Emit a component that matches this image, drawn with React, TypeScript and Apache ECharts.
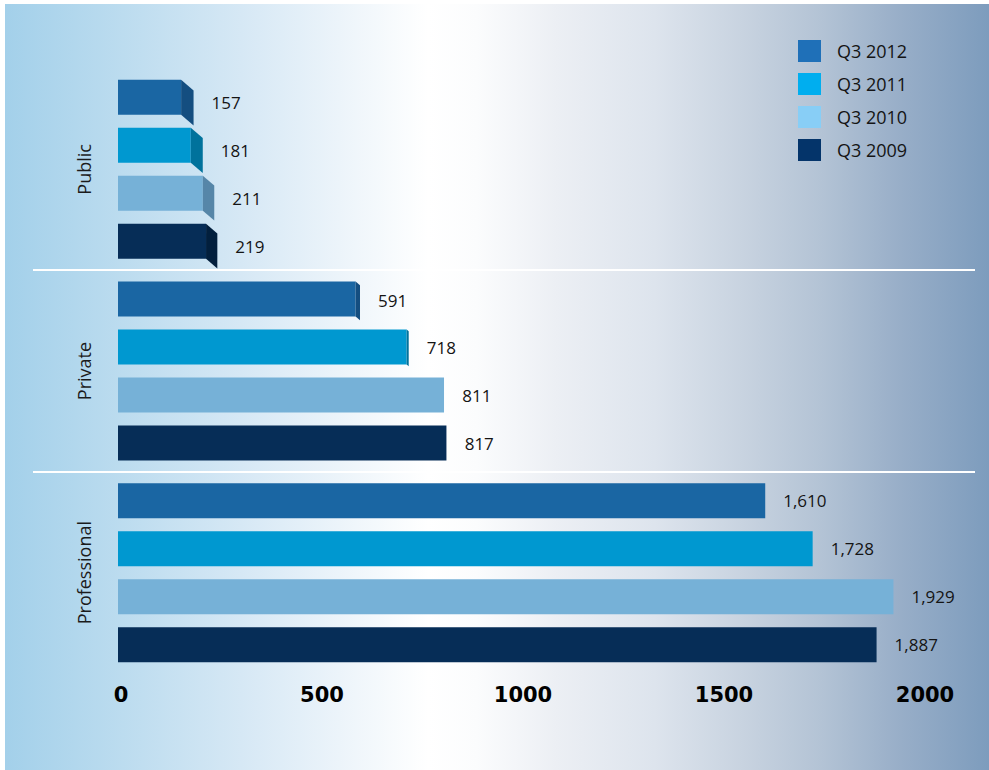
import React, { useEffect, useRef } from 'react';
import * as echarts from 'echarts';

const categories = ['Public', 'Private', 'Professional'];
const quarters = ['Q3 2012', 'Q3 2011', 'Q3 2010', 'Q3 2009'];
const q2012 = [157, 591, 1610];
const q2011 = [181, 718, 1728];
const q2010 = [211, 811, 1929];
const q2009 = [219, 817, 1887];
const seriesValues = [q2012, q2011, q2010, q2009];
const xTickLabels = ['0', '500', '1000', '1500', '2000'];
const X_MIN = 0;
const X_MAX = 2000;
const X_INTERVAL = 500;

const barColors = ['#1a66a3', '#0098d0', '#76b1d7', '#062d57'];
const sideColors = ['#144e80', '#00729c', '#5686a8', '#021f3d'];
const legendColors = ['#1f70b8', '#00aeef', '#88cef6', '#04346a'];

const BAR_W = 35;
const BAR_GAP = 13;
const VANISH_VALUE = 830;

function makeRenderItem(s: number) {
  return (params: any, api: any) => {
    const val = api.value(0);
    const cat = api.value(1);
    const start = api.coord([X_MIN, cat]);
    const end = api.coord([val, cat]);
    const total = 4 * BAR_W + 3 * BAR_GAP;
    const top = start[1] - total / 2 + s * (BAR_W + BAR_GAP);
    const vanish = api.coord([VANISH_VALUE, cat])[0];
    const depth = Math.max(0, (vanish - end[0]) * 0.046);
    const drop = depth * 0.85;
    const x0 = end[0];
    const children: any[] = [
      {
        type: 'rect',
        shape: { x: start[0], y: top, width: x0 - start[0], height: BAR_W },
        style: { fill: barColors[s] },
      },
    ];
    if (depth > 0.4) {
      children.push({
        type: 'polygon',
        shape: {
          points: [
            [x0, top],
            [x0 + depth, top + drop],
            [x0 + depth, top + BAR_W + drop],
            [x0, top + BAR_W],
          ],
        },
        style: { fill: sideColors[s] },
      });
    }
    children.push({
      type: 'text',
      x: x0 + depth + 18,
      y: top + BAR_W / 2 + drop / 2,
      style: {
        text: Number(val).toLocaleString('en-US'),
        fill: '#141414',
        fontSize: 17,
        fontFamily: '"Open Sans", "Noto Sans", sans-serif',
        align: 'left',
        verticalAlign: 'middle',
      },
    });
    return { type: 'group', children };
  };
}

export default function App() {
  const ref = useRef<HTMLDivElement>(null);

  useEffect(() => {
    document.body.style.margin = '0';
    if (!ref.current) return;
    const chart = echarts.init(ref.current, undefined, { renderer: 'svg' });
    const gridTop = 68.5;
    const gridHeight = 605;
    const option: any = {
      animation: false,
      backgroundColor: 'transparent',
      legend: {
        orient: 'vertical',
        left: 798,
        top: 40,
        padding: 0,
        itemWidth: 23,
        itemHeight: 22,
        itemGap: 11,
        icon: 'rect',
        selectedMode: false,
        data: quarters.map((q, i) => ({ name: q, itemStyle: { color: legendColors[i] } })),
        textStyle: {
          fontSize: 18,
          color: '#141414',
          fontFamily: '"Open Sans", "Noto Sans", sans-serif',
          padding: [0, 0, 0, 11],
        },
      },
      grid: [
        { left: 118, top: gridTop, width: 804, height: gridHeight, outerBoundsMode: 'none' },
        { left: 33, top: gridTop, width: 942, height: gridHeight, outerBoundsMode: 'none' },
      ],
      xAxis: [
        {
          type: 'value',
          gridIndex: 0,
          min: X_MIN,
          max: X_MAX,
          interval: X_INTERVAL,
          axisLine: { show: false },
          axisTick: { show: false },
          splitLine: { show: false },
          axisLabel: {
            margin: 11,
            color: '#000',
            fontSize: 21,
            fontWeight: 'bold',
            fontFamily: '"DejaVu Sans", sans-serif',
            padding: [0, 0, 0, 6],
            formatter: (v: number) => xTickLabels[Math.round(v / X_INTERVAL)] ?? String(v),
          },
        },
        { type: 'value', gridIndex: 1, show: false, min: 0, max: 1 },
      ],
      yAxis: [
        {
          type: 'category',
          gridIndex: 0,
          data: categories,
          inverse: true,
          axisLine: { show: false },
          axisTick: { show: false },
          splitLine: { show: false },
          axisLabel: {
            rotate: 90,
            margin: 25,
            color: '#1b1b1b',
            fontSize: 18,
            fontFamily: '"Open Sans", "Noto Sans", sans-serif',
          },
        },
        {
          type: 'category',
          gridIndex: 1,
          data: categories,
          inverse: true,
          axisLine: { show: false },
          axisTick: { show: false },
          axisLabel: { show: false },
          splitLine: {
            show: true,
            showMinLine: false,
            showMaxLine: false,
            lineStyle: { color: '#ffffff', width: 2 },
          },
        },
      ],
      series: quarters.map((q, s) => ({
        type: 'custom',
        name: q,
        xAxisIndex: 0,
        yAxisIndex: 0,
        itemStyle: { color: legendColors[s] },
        encode: { x: 0, y: 1 },
        data: seriesValues[s].map((v, c) => [v, c]),
        renderItem: makeRenderItem(s),
      })),
    };
    chart.setOption(option);
    return () => chart.dispose();
  }, []);

  return (
    <div style={{ position: 'relative', width: 989, height: 770, background: '#ffffff', overflow: 'hidden' }}>
      <div
        style={{
          position: 'absolute',
          left: 5,
          top: 4,
          right: 0,
          bottom: 0,
          background:
            'linear-gradient(to right, #a3d0ea 0%, #bcdcef 12%, #d6e8f5 24%, #ecf4fa 34%, #ffffff 43%, #fbfcfd 48%, #eceff4 56%, #dde4ed 66%, #c8d3e0 75%, #b3c3d5 83%, #98aec8 91%, #7d9cbd 100%)',
        }}
      />
      <div ref={ref} style={{ position: 'absolute', left: 0, top: 0, width: 989, height: 770 }} />
    </div>
  );
}
